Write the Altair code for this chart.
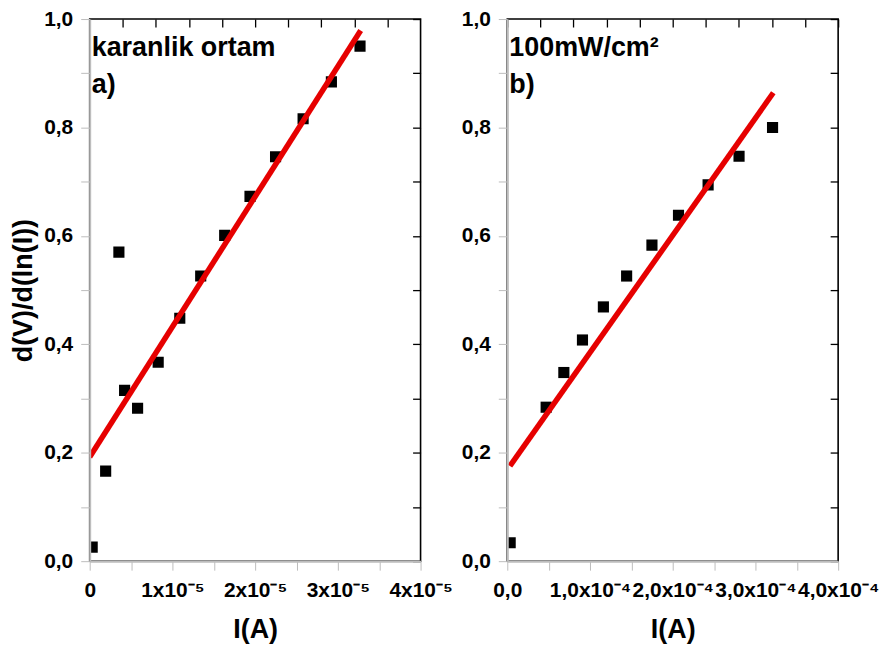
import json
import altair as alt
import pandas as pd

# ---- data ----
I_dark = [3e-7, 1.93e-6, 3.53e-6, 4.22e-6, 5.79e-6, 8.28e-6, 1.089e-5, 1.342e-5,
          1.632e-5, 1.938e-5, 2.247e-5, 2.580e-5, 2.922e-5, 3.268e-5]
D_dark = [0.026, 0.166, 0.570, 0.315, 0.282, 0.367, 0.448, 0.526,
          0.601, 0.673, 0.746, 0.816, 0.884, 0.950]
fit_dark_I = [0.0, 3.276e-5]
fit_dark_D = [0.192, 0.979]

I_light = [3.5e-6, 4.70e-5, 6.84e-5, 9.09e-5, 1.162e-4, 1.443e-4, 1.749e-4,
           2.070e-4, 2.428e-4, 2.802e-4, 3.207e-4]
D_light = [0.034, 0.284, 0.348, 0.408, 0.469, 0.526, 0.583,
           0.638, 0.694, 0.747, 0.800]
fit_light_I = [3.3e-6, 3.216e-4]
fit_light_D = [0.1755, 0.864]

xlabels_dark = ["0", "", "1x10⁻⁵", "", "2x10⁻⁵", "", "3x10⁻⁵", "", "4x10⁻⁵"]
xlabels_light = ["0,0", "", "1,0x10⁻⁴", "", "2,0x10⁻⁴", "", "3,0x10⁻⁴", "", "4,0x10⁻⁴"]
ann_dark = "karanlik ortam\na)"
ann_light = "100mW/cm²\nb)"

FONT = "Liberation Sans"
GRAY = "#bdbdbd"
W, H = 332, 544


def panel(I, D, fI, fD, xmax, xlabels, ann, ytitle):
    pts = pd.DataFrame({"I": I, "D": D})
    fit = pd.DataFrame({"I": fI, "D": fD})
    step = xmax / 8
    xvals = [step * k for k in range(9)]
    topvals = [xmax / 10 * k for k in range(11)]
    yvals = [round(0.1 * k, 1) for k in range(11)]
    xscale = alt.Scale(domain=[0, xmax], nice=False, zero=False)
    yscale = alt.Scale(domain=[0, 1], nice=False)
    lab_expr = json.dumps(xlabels, ensure_ascii=False) + "[round(datum.value/" + repr(step) + ")]"
    ylab_expr = "round(datum.value*10)%2==0 ? replace(format(datum.value,'.1f'),'.',',') : ''"

    xaxis = alt.Axis(orient="bottom", values=xvals, labelExpr=lab_expr, domainColor=GRAY,
                     domainWidth=2, tickColor=GRAY, tickSize=9, labelPadding=9,
                     labelFontSize=21, labelFont=FONT, labelFontWeight="bold", labelColor="black",
                     labelFlush=False, labelOverlap=False, grid=False,
                     titleFont=FONT, titleFontSize=27, titleFontWeight="bold", titlePadding=17,
                     zindex=1)
    yaxis = alt.Axis(orient="left", values=yvals, labelExpr=ylab_expr, domainColor=GRAY,
                     domainWidth=2, tickColor=GRAY, tickSize=9, labelPadding=8,
                     labelFontSize=21, labelFont=FONT, labelFontWeight="bold", labelColor="black",
                     labelFlush=False, labelOverlap=False, grid=False,
                     titleFont=FONT, titleFontSize=27, titleFontWeight="bold", titlePadding=6,
                     zindex=1)

    points = alt.Chart(pts).mark_square(size=125, color="black", opacity=1, clip=True).encode(
        x=alt.X("I:Q", scale=xscale, axis=xaxis, title="I(A)"),
        y=alt.Y("D:Q", scale=yscale, axis=yaxis, title=ytitle if ytitle else None),
    )
    topaxis = alt.Axis(orient="top", offset=-8, tickSize=8, domain=False, labels=False,
                       values=topvals, tickColor="black", tickWidth=1.3, grid=False)
    rightaxis = alt.Axis(orient="right", offset=-8, tickSize=8, domain=False, labels=False,
                         values=yvals, tickColor="black", tickWidth=1.3, grid=False)
    line = alt.Chart(fit).mark_line(color="#e60000", strokeWidth=5.5, clip=True).encode(
        x=alt.X("I:Q", scale=xscale, axis=topaxis, title=None),
        y=alt.Y("D:Q", scale=yscale, axis=rightaxis, title=None),
    )
    txt = alt.Chart(pd.DataFrame({"t": [ann]})).mark_text(
        align="left", baseline="alphabetic", font=FONT, fontSize=27, fontWeight="bold",
        lineBreak="\n", lineHeight=37, color="black"
    ).encode(x=alt.value(2), y=alt.value(37), text="t:N")
    return alt.layer(points, line, txt).resolve_axis(x="independent", y="independent").properties(
        width=W, height=H)


pa = panel(I_dark, D_dark, fit_dark_I, fit_dark_D, 4e-5, xlabels_dark, ann_dark, "d(V)/d(ln(I))")
pb = panel(I_light, D_light, fit_light_I, fit_light_D, 4e-4, xlabels_light, ann_light, None)

chart = alt.hconcat(pa, pb, spacing=7).properties(
    padding={"left": 9, "top": 6, "right": 0, "bottom": 0},
    background="white",
).configure_view(stroke="black", strokeWidth=1.6)

chart.save("out.html", embed_options={"renderer": "svg", "actions": False})
